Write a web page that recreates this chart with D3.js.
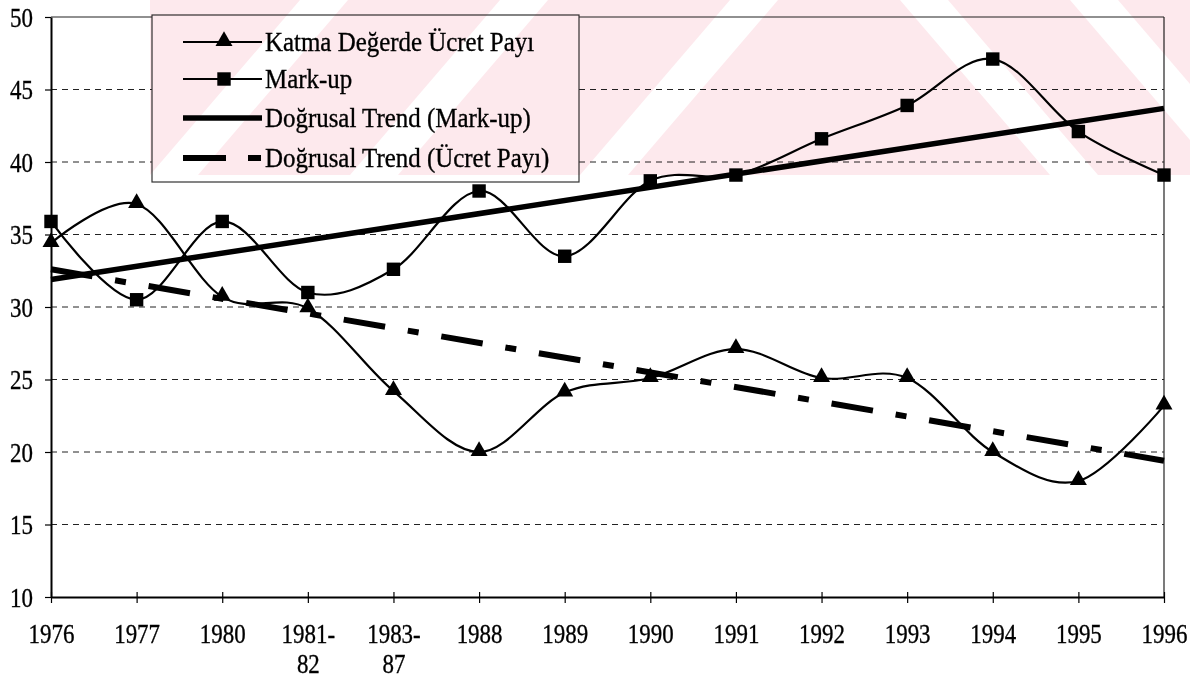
<!DOCTYPE html>
<html>
<head>
<meta charset="utf-8">
<script src="https://cdn.jsdelivr.net/npm/d3@7"></script>
<style>
  body { margin: 0; background: #fff; }
  svg { display: block; font-family: "Liberation Serif", "Times New Roman", serif; }
</style>
</head>
<body>
<div id="chart"></div>
<script>
// categories on the x axis (two-line labels for the ranges)
const categories = ["1976", "1977", "1980", "1981-82", "1983-87", "1988", "1989", "1990", "1991", "1992", "1993", "1994", "1995", "1996"];
const tickLabels = [["1976"], ["1977"], ["1980"], ["1981-", "82"], ["1983-", "87"], ["1988"], ["1989"], ["1990"], ["1991"], ["1992"], ["1993"], ["1994"], ["1995"], ["1996"]];

// Katma Değerde Ücret Payı (triangles)
const wageShare = [34.4, 37.1, 30.7, 29.9, 24.2, 20.0, 24.1, 25.1, 27.1, 25.1, 25.1, 20.0, 18.0, 23.2];
// Mark-up (squares)
const markup = [35.9, 30.5, 35.9, 31.0, 32.6, 38.0, 33.5, 38.7, 39.1, 41.6, 43.9, 47.1, 42.1, 39.1];

// linear trends, value at first and last category
const markupTrend = [31.9, 43.7];
const wageTrend = [32.6, 19.4];

const yTicks = [10, 15, 20, 25, 30, 35, 40, 45, 50];

const legendItems = [
    { label: "Katma Değerde Ücret Payı", kind: "triangle" },
    { label: "Mark-up", kind: "square" },
    { label: "Doğrusal Trend (Mark-up)", kind: "trend" },
    { label: "Doğrusal Trend (Ücret Payı)", kind: "dashtrend" }
];

const W = 1190, H = 682;
const plotLeft = 51, plotRight = 1164, plotTop = 17, plotBottom = 597;
const tickFont = 27, tickSqueeze = 0.85;

const svg = d3.select("#chart").append("svg")
    .attr("width", W)
    .attr("height", H);

const x = d3.scalePoint().domain(categories).range([plotLeft, plotRight]);
const y = d3.scaleLinear().domain([10, 50]).range([plotBottom, plotTop]);

// gridlines
svg.append("g")
    .selectAll("line")
    .data(yTicks.filter(d => d > 10 && d < 50))
    .enter().append("line")
    .attr("x1", plotLeft).attr("x2", plotRight)
    .attr("y1", d => y(d)).attr("y2", d => y(d))
    .attr("stroke", "#222")
    .attr("stroke-width", 1)
    .attr("stroke-dasharray", "6,5");

// top and right border of the plot area
svg.append("line").attr("x1", plotLeft).attr("x2", plotRight).attr("y1", y(50)).attr("y2", y(50))
    .attr("stroke", "#222").attr("stroke-width", 1.2);
svg.append("line").attr("x1", plotRight).attr("x2", plotRight).attr("y1", y(50)).attr("y2", y(10))
    .attr("stroke", "#222").attr("stroke-width", 1.2);

// y axis
const yAxis = svg.append("g")
    .attr("transform", `translate(${plotLeft},0)`)
    .call(d3.axisLeft(y).tickValues(yTicks).tickSize(6).tickSizeOuter(0));
yAxis.select(".domain").attr("stroke", "#000").attr("stroke-width", 2);
yAxis.selectAll(".tick line").attr("stroke", "#000").attr("stroke-width", 1.2);
yAxis.selectAll(".tick text")
    .attr("font-family", "Liberation Serif")
    .attr("font-size", tickFont)
    .attr("fill", "#000")
    .attr("stroke", "#000")
    .attr("stroke-width", 0.35)
    .attr("x", -18 / tickSqueeze)
    .attr("dy", "0.34em")
    .attr("transform", `scale(${tickSqueeze},1)`);

// x axis
const xAxis = svg.append("g")
    .attr("transform", `translate(0,${plotBottom})`)
    .call(d3.axisBottom(x).tickSize(6).tickSizeOuter(0));
xAxis.select(".domain").attr("stroke", "#000").attr("stroke-width", 2);
xAxis.selectAll(".tick line").attr("stroke", "#000").attr("stroke-width", 1.2).attr("y1", -5);
xAxis.selectAll(".tick text")
    .text(null)
    .attr("font-family", "Liberation Serif")
    .attr("font-size", tickFont)
    .attr("fill", "#000")
    .attr("stroke", "#000")
    .attr("stroke-width", 0.35)
    .attr("y", 46)
    .attr("dy", 0)
    .attr("transform", `scale(${tickSqueeze},1)`)
    .each(function (d) {
        const lines = tickLabels[categories.indexOf(d)];
        const t = d3.select(this);
        lines.forEach((s, i) => {
            t.append("tspan").attr("x", 0).attr("dy", i === 0 ? 0 : 30).text(s);
        });
    });

// smoothed series lines
const line = d3.line()
    .x((d, i) => x(categories[i]))
    .y(d => y(d))
    .curve(d3.curveCardinal);

svg.append("path").datum(wageShare)
    .attr("d", line).attr("fill", "none").attr("stroke", "#000").attr("stroke-width", 2.2);
svg.append("path").datum(markup)
    .attr("d", line).attr("fill", "none").attr("stroke", "#000").attr("stroke-width", 2.2);

// trend lines
const first = categories[0], last = categories[categories.length - 1];
svg.append("line")
    .attr("x1", x(first)).attr("y1", y(markupTrend[0]))
    .attr("x2", x(last)).attr("y2", y(markupTrend[1]))
    .attr("stroke", "#000").attr("stroke-width", 5.5);
svg.append("line")
    .attr("x1", x(first)).attr("y1", y(wageTrend[0]))
    .attr("x2", x(last)).attr("y2", y(wageTrend[1]))
    .attr("stroke", "#000").attr("stroke-width", 6)
    .attr("stroke-dasharray", "42,23,11,23");

// markers
const triangle = d3.symbol().type(d3.symbolTriangle).size(125);
const square = d3.symbol().type(d3.symbolSquare).size(180);

svg.append("g").selectAll("path")
    .data(wageShare)
    .enter().append("path")
    .attr("d", triangle)
    .attr("transform", (d, i) => `translate(${x(categories[i])},${y(d) - 1})`)
    .attr("fill", "#000");

svg.append("g").selectAll("path")
    .data(markup)
    .enter().append("path")
    .attr("d", square)
    .attr("transform", (d, i) => `translate(${x(categories[i])},${y(d)})`)
    .attr("fill", "#000");

// legend
const legend = svg.append("g");
legend.append("rect")
    .attr("x", 152).attr("y", 15)
    .attr("width", 427).attr("height", 167)
    .attr("fill", "#fff")
    .attr("stroke", "#333")
    .attr("stroke-width", 1.2);

const rowY = [42, 79, 118, 158];
legendItems.forEach((item, i) => {
    const g = legend.append("g").attr("transform", `translate(0,${rowY[i]})`);
    const ln = g.append("line").attr("x1", 183).attr("x2", 262).attr("y1", 0).attr("y2", 0).attr("stroke", "#000");
    if (item.kind === "triangle") {
        ln.attr("stroke-width", 2.2);
        g.append("path").attr("d", triangle).attr("transform", "translate(224,-1)").attr("fill", "#000");
    } else if (item.kind === "square") {
        ln.attr("stroke-width", 2.2);
        g.append("path").attr("d", square).attr("transform", "translate(224,0)").attr("fill", "#000");
    } else if (item.kind === "trend") {
        ln.attr("stroke-width", 5.5);
    } else {
        ln.attr("stroke-width", 6).attr("stroke-dasharray", "43,22,13,23");
    }
    g.append("g").attr("transform", "translate(265,0)")
        .append("text")
        .attr("font-family", "Liberation Serif")
        .attr("font-size", 28)
        .attr("dy", "0.33em")
        .attr("transform", "scale(0.89,1)")
        .attr("fill", "#000")
        .attr("stroke", "#000")
        .attr("stroke-width", 0.35)
        .text(item.label);
});

// faint scanned watermark band at the top
const wm = svg.append("g").style("mix-blend-mode", "multiply");
const clip = svg.append("clipPath").attr("id", "wmclip");
clip.append("rect").attr("x", 150).attr("y", 0).attr("width", W - 150).attr("height", 175);
const wmg = wm.append("g").attr("clip-path", "url(#wmclip)");
wmg.append("rect").attr("x", 150).attr("y", 0).attr("width", W - 150).attr("height", 175).attr("fill", "#fde9ed");
const slashStripes = [300, 500, 730];
const backStripes = [900, 1070];
wmg.selectAll(".s1").data(slashStripes).enter().append("path")
    .attr("d", d => `M${d},0 L${d + 48},0 L${d + 48 - 150},175 L${d - 150},175 Z`)
    .attr("fill", "#fff");
wmg.selectAll(".s2").data(backStripes).enter().append("path")
    .attr("d", d => `M${d},0 L${d + 48},0 L${d + 48 + 150},175 L${d + 150},175 Z`)
    .attr("fill", "#fff");
</script>
</body>
</html>
